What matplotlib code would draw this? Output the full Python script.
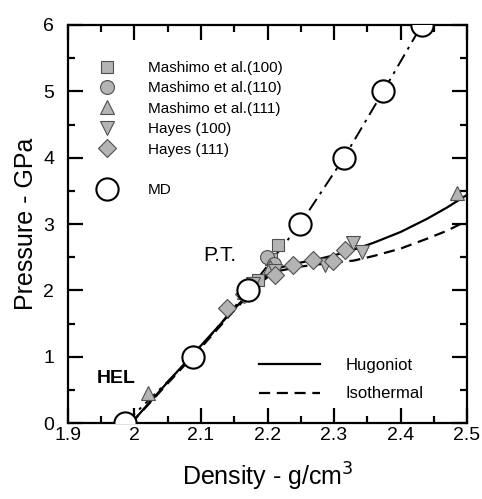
import numpy as np
import matplotlib
matplotlib.use("Agg")
from matplotlib import pyplot as plt
from matplotlib.lines import Line2D

plt.rcParams['font.family'] = ['Liberation Sans', 'DejaVu Sans']

# MD results
md_rho = [1.986, 2.088, 2.171, 2.249, 2.315, 2.374, 2.432]
md_p = [0.0, 1.0, 2.0, 3.0, 4.0, 5.0, 6.0]

# Hugoniot and isothermal curves
hug_rho = [1.995, 2.05, 2.10, 2.15, 2.19, 2.21, 2.24, 2.28, 2.32, 2.36, 2.40, 2.44, 2.47, 2.50]
hug_p = [0.0, 0.62, 1.17, 1.72, 2.15, 2.32, 2.40, 2.48, 2.58, 2.72, 2.88, 3.08, 3.25, 3.44]
iso_rho = [1.995, 2.05, 2.10, 2.15, 2.19, 2.21, 2.25, 2.30, 2.33, 2.36, 2.40, 2.44, 2.47, 2.50]
iso_p = [0.0, 0.60, 1.14, 1.70, 2.12, 2.28, 2.36, 2.42, 2.45, 2.52, 2.63, 2.78, 2.90, 3.05]

# experiments
mash100_rho = [2.216, 2.205, 2.185]
mash100_p = [2.68, 2.48, 2.15]
mash110_rho = [2.199, 2.21]
mash110_p = [2.50, 2.40]
mash111_rho = [2.020, 2.165, 2.203, 2.485]
mash111_p = [0.45, 1.98, 2.35, 3.47]
hayes100_rho = [2.178, 2.212, 2.286, 2.329, 2.342]
hayes100_p = [2.10, 2.30, 2.38, 2.71, 2.58]
hayes111_rho = [2.139, 2.165, 2.211, 2.238, 2.268, 2.298, 2.316]
hayes111_p = [1.73, 1.95, 2.23, 2.38, 2.46, 2.44, 2.61]

gray = '#b4b4b4'
edge = '#505050'

fig = plt.figure(figsize=(4.82, 4.99), dpi=100)
ax = fig.add_axes([0.141, 0.152, 0.828, 0.798])

ax.plot(hug_rho, hug_p, '-', color='black', lw=1.6)
ax.plot(iso_rho, iso_p, '--', color='black', lw=1.6, dashes=(5, 3))
ax.plot(md_rho, md_p, '-.', color='black', lw=1.4, dashes=(7, 3, 1.5, 3))

mk = dict(ls='none', mfc=gray, mec=edge, mew=0.8)
ax.plot(mash100_rho, mash100_p, marker='s', ms=9, **mk)
ax.plot(mash110_rho, mash110_p, marker='o', ms=10, **mk)
ax.plot(mash111_rho, mash111_p, marker='^', ms=10, **mk)
ax.plot(hayes100_rho, hayes100_p, marker='v', ms=10, **mk)
ax.plot(hayes111_rho, hayes111_p, marker='D', ms=9, **mk)
ax.plot(md_rho, md_p, ls='none', marker='o', ms=16, mfc='white', mec='black', mew=1.5, zorder=5)

ax.text(2.103, 2.53, 'P.T.', fontsize=15, va='center', ha='left')
ax.text(1.944, 0.68, 'HEL', fontsize=14, va='center', ha='left', fontweight='bold')

ax.set_xlim(1.9, 2.5)
ax.set_ylim(0, 6)
ax.set_xticks(np.arange(1.9, 2.501, 0.1))
ax.set_xticks(np.arange(1.95, 2.5, 0.1), minor=True)
ax.set_xticklabels(['1.9', '2', '2.1', '2.2', '2.3', '2.4', '2.5'])
ax.set_yticks(range(7))
ax.set_yticks(np.arange(0.5, 6, 1.0), minor=True)
ax.tick_params(which='both', direction='in', top=True, right=True, width=1.6, labelsize=14)
ax.tick_params(which='major', length=11)
ax.tick_params(which='minor', length=5)
ax.tick_params(axis='x', pad=3)
ax.tick_params(axis='y', pad=10)
for s in ax.spines.values():
    s.set_linewidth(1.6)

ax.set_xlabel('Density - g/cm$^3$', fontsize=18, labelpad=12)
ax.set_ylabel('Pressure - GPa', fontsize=18, labelpad=4)

handles = [
    Line2D([], [], marker='s', ms=9, **mk),
    Line2D([], [], marker='o', ms=10, **mk),
    Line2D([], [], marker='^', ms=10, **mk),
    Line2D([], [], marker='v', ms=10, **mk),
    Line2D([], [], marker='D', ms=9, **mk),
    Line2D([], [], ls='none'),
    Line2D([], [], ls='none', marker='o', ms=16, mfc='white', mec='black', mew=1.5),
]
labels = ['Mashimo et al.(100)', 'Mashimo et al.(110)', 'Mashimo et al.(111)',
          'Hayes (100)', 'Hayes (111)', '', 'MD']
leg1 = ax.legend(handles, labels, loc='upper left', bbox_to_anchor=(0.055, 0.925),
                 frameon=False, fontsize=11, handlelength=1.5, handletextpad=1.9,
                 labelspacing=0.42, borderaxespad=0)
ax.add_artist(leg1)

lh = [Line2D([], [], color='black', lw=1.6),
      Line2D([], [], color='black', lw=1.6, ls='--', dashes=(5, 3))]
ax.legend(lh, ['Hugoniot', 'Isothermal'], loc='lower right', bbox_to_anchor=(0.907, 0.038),
          frameon=False, fontsize=12, handlelength=3.7, handletextpad=1.5,
          labelspacing=0.8, borderaxespad=0)

fig.savefig('out.png', dpi=100)
